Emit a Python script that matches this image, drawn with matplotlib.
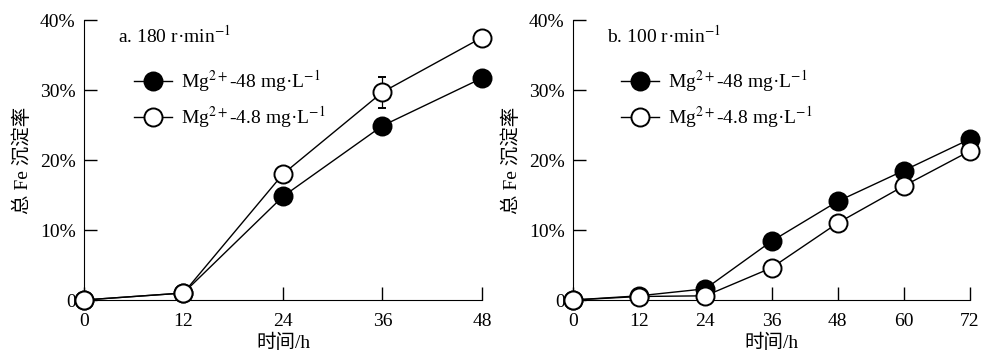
import numpy as np
import matplotlib
matplotlib.use("Agg")
import matplotlib.pyplot as plt
from matplotlib.lines import Line2D

plt.rcParams['font.family'] = ['Liberation Serif', 'Noto Sans CJK SC']
plt.rcParams['mathtext.fontset'] = 'stix'

# panel a: 180 r/min
t_a = [0, 12, 24, 36, 48]
a_hi = [0.0, 1.0, 14.8, 24.9, 31.7]
a_hi_err = [0.0, 0.3, 0.4, 0.4, 0.8]
a_lo = [0.0, 1.0, 18.0, 29.7, 37.5]
a_lo_err = [0.0, 0.8, 0.4, 2.2, 0.8]

# panel b: 100 r/min
t_b = [0, 12, 24, 36, 48, 60, 72]
b_hi = [0.0, 0.6, 1.6, 8.4, 14.1, 18.5, 23.0]
b_hi_err = [0.0, 0.2, 0.3, 0.4, 0.4, 0.5, 0.4]
b_lo = [0.0, 0.5, 0.6, 4.6, 11.0, 16.3, 21.3]
b_lo_err = [0.0, 0.2, 0.3, 0.8, 0.9, 0.5, 0.4]

yticks = [0, 10, 20, 30, 40]
ylabels = ['0', '10%', '20%', '30%', '40%']
lab_hi = 'Mg$^{2+}$-48 mg·L$^{-1}$'
lab_lo = 'Mg$^{2+}$-4.8 mg·L$^{-1}$'

fig = plt.figure(figsize=(9.94, 3.58), dpi=100)
ax1 = fig.add_axes([0.0845, 0.162, 0.4004, 0.782])
ax2 = fig.add_axes([0.5765, 0.162, 0.3994, 0.782])


def dibuja(ax, t, hi, hi_e, lo, lo_e, titulo, leg_x):
    kw = dict(color='black', lw=1.0, ms=13, mew=1.4, capsize=3,
              elinewidth=0.9, capthick=0.9, clip_on=False, mec='black')
    l1 = ax.errorbar(t, hi, yerr=hi_e, marker='o', mfc='black', zorder=3, **kw)
    l2 = ax.errorbar(t, lo, yerr=lo_e, marker='o', mfc='white', zorder=4, **kw)
    for c in l1[1] + l2[1] + l1[2] + l2[2]:
        c.set_clip_on(False)
    ax.set_xlim(t[0], t[-1])
    ax.set_ylim(0, 40)
    ax.set_xticks(t)
    ax.set_yticks(yticks)
    ax.set_yticklabels(ylabels)
    ax.spines['top'].set_visible(False)
    ax.spines['right'].set_visible(False)
    ax.tick_params(direction='in', length=9.5, width=1.0, labelsize=14)
    ax.tick_params(axis='x', pad=9)
    ax.tick_params(axis='y', pad=6)
    ax.set_xlabel('时间/h', fontsize=14, labelpad=3)
    ax.set_ylabel('总 Fe 沉淀率', fontsize=14, labelpad=6)
    ax.text(0.085, 0.985, titulo, transform=ax.transAxes, fontsize=14,
            ha='left', va='top')
    h1 = Line2D([], [], color='black', lw=1.0, marker='o', ms=13, mew=1.4,
                mfc='black', mec='black')
    h2 = Line2D([], [], color='black', lw=1.0, marker='o', ms=13, mew=1.4,
                mfc='white', mec='black')
    ax.legend(handles=[h1, h2], labels=[lab_hi, lab_lo], loc='upper left',
              bbox_to_anchor=(leg_x, 0.855), frameon=False, fontsize=14,
              handlelength=2.0, handletextpad=0.45, labelspacing=0.5,
              borderaxespad=0)


dibuja(ax1, t_a, a_hi, a_hi_err, a_lo, a_lo_err, 'a. 180 r·min$^{-1}$', 0.105)
dibuja(ax2, t_b, b_hi, b_hi_err, b_lo, b_lo_err, 'b. 100 r·min$^{-1}$', 0.1)

fig.savefig('out.png', dpi=100)
